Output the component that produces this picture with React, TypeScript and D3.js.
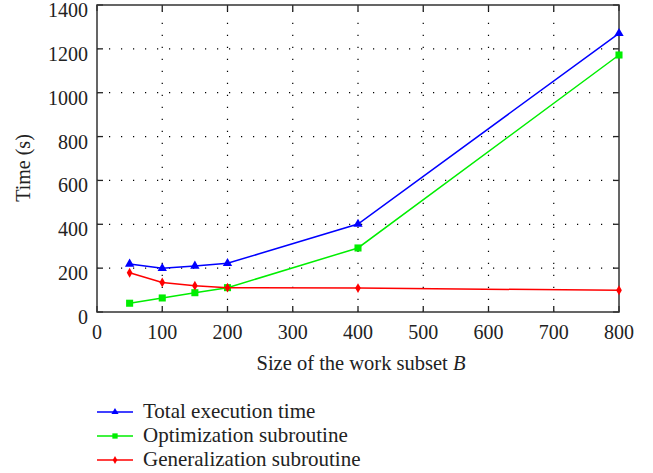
import React, { useRef, useEffect } from "react";
import * as d3 from "d3";

const sizes = [50, 100, 150, 200, 400, 800];
const totalTime = [219, 199, 210, 222, 401, 1271];
const optTime = [40, 64, 88, 111, 292, 1172];
const genTime = [179, 135, 120, 111, 109, 99];
const xTicks = [0, 100, 200, 300, 400, 500, 600, 700, 800];
const yTicks = [0, 200, 400, 600, 800, 1000, 1200, 1400];

const series = [
  { name: "Total execution time", values: totalTime, color: "#0000ff", marker: "triangle" },
  { name: "Optimization subroutine", values: optTime, color: "#00ee00", marker: "square" },
  { name: "Generalization subroutine", values: genTime, color: "#ff0000", marker: "diamond" },
];

const W = 653;
const H = 473;
const margin = { left: 97, right: 34, top: 5, bottom: 161 };
const FONT = "'Liberation Serif', 'DejaVu Serif', serif";

function App() {
  const svgRef = useRef(null);

  useEffect(() => {
    const svg = d3.select(svgRef.current);
    svg.selectAll("*").remove();

    const x = d3.scaleLinear().domain([0, 800]).range([margin.left, W - margin.right]);
    const y = d3.scaleLinear().domain([0, 1400]).range([H - margin.bottom, margin.top]);
    const [x0, x1] = x.range();
    const [y0, y1] = y.range();

    // dotted grid
    const grid = svg.append("g").attr("stroke", "#000").attr("stroke-width", 1.2)
      .attr("stroke-dasharray", "1.2,10.8");
    grid.selectAll(".gx").data(xTicks.slice(1, -1)).join("line")
      .attr("x1", (d) => x(d)).attr("x2", (d) => x(d))
      .attr("y1", y0).attr("y2", y1);
    grid.selectAll(".gy").data(yTicks.slice(1, -1)).join("line")
      .attr("y1", (d) => y(d)).attr("y2", (d) => y(d))
      .attr("x1", x0).attr("x2", x1);

    // ticks inward on all sides
    const ticks = svg.append("g").attr("stroke", "#222").attr("stroke-width", 1.3);
    xTicks.forEach((d) => {
      ticks.append("line").attr("x1", x(d)).attr("x2", x(d)).attr("y1", y0).attr("y2", y0 - 6);
      ticks.append("line").attr("x1", x(d)).attr("x2", x(d)).attr("y1", y1).attr("y2", y1 + 6);
    });
    yTicks.forEach((d) => {
      ticks.append("line").attr("x1", x0).attr("x2", x0 + 6).attr("y1", y(d)).attr("y2", y(d));
      ticks.append("line").attr("x1", x1).attr("x2", x1 - 6).attr("y1", y(d)).attr("y2", y(d));
    });

    // frame
    svg.append("rect")
      .attr("x", x0).attr("y", y1).attr("width", x1 - x0).attr("height", y0 - y1)
      .attr("fill", "none").attr("stroke", "#333").attr("stroke-width", 1.5);

    // tick labels
    svg.append("g").selectAll("text").data(xTicks).join("text")
      .attr("x", (d) => x(d)).attr("y", y0 + 27)
      .attr("text-anchor", "middle")
      .attr("font-family", FONT).attr("font-size", 20).attr("fill", "#222")
      .text((d) => d);
    svg.append("g").selectAll("text").data(yTicks).join("text")
      .attr("x", x0 - 9).attr("y", (d) => y(d) + 12)
      .attr("text-anchor", "end")
      .attr("font-family", FONT).attr("font-size", 20).attr("fill", "#222")
      .text((d) => d);

    // axis titles
    const xl = svg.append("text")
      .attr("x", 361).attr("y", 370)
      .attr("text-anchor", "middle")
      .attr("font-family", FONT).attr("font-size", 20.5).attr("fill", "#222");
    xl.append("tspan").text("Size of the work subset ");
    xl.append("tspan").attr("font-style", "italic").text("B");
    svg.append("text")
      .attr("transform", `translate(30,168) rotate(-90)`)
      .attr("text-anchor", "middle")
      .attr("font-family", FONT).attr("font-size", 20).attr("fill", "#222")
      .text("Time (s)");

    const symbolFor = (m) =>
      m === "triangle" ? d3.symbol(d3.symbolTriangle, 38)
        : m === "square" ? d3.symbol(d3.symbolSquare, 50)
        : d3.symbol(d3.symbolDiamond, 28);

    const line = d3.line().x((d) => x(d[0])).y((d) => y(d[1]));

    series.forEach((s) => {
      const pts = sizes.map((v, i) => [v, s.values[i]]);
      svg.append("path").datum(pts)
        .attr("d", line)
        .attr("fill", "none").attr("stroke", s.color).attr("stroke-width", 1.5);
      svg.append("g").selectAll("path").data(pts).join("path")
        .attr("d", symbolFor(s.marker))
        .attr("transform", (d) => `translate(${x(d[0])},${y(d[1])})`)
        .attr("fill", s.color);
    });

    // legend
    const legendY = [412, 436, 460];
    series.forEach((s, i) => {
      const g = svg.append("g").attr("transform", `translate(97,${legendY[i]})`);
      g.append("line").attr("x1", 0).attr("x2", 36).attr("y1", 0).attr("y2", 0)
        .attr("stroke", s.color).attr("stroke-width", 1.5);
      const sym = s.marker === "triangle" ? d3.symbol(d3.symbolTriangle, 22)
        : s.marker === "square" ? d3.symbol(d3.symbolSquare, 28)
        : d3.symbol(d3.symbolDiamond, 18);
      g.append("path").attr("d", sym).attr("transform", "translate(18,0)").attr("fill", s.color);
      g.append("text").attr("x", 46).attr("y", 6)
        .attr("font-family", FONT).attr("font-size", 21).attr("fill", "#222")
        .text(s.name);
    });
  }, []);

  return (
    <svg ref={svgRef} width={W} height={H}
      style={{ position: "absolute", left: 0, top: 0, background: "#fff" }} />
  );
}

export default App;
